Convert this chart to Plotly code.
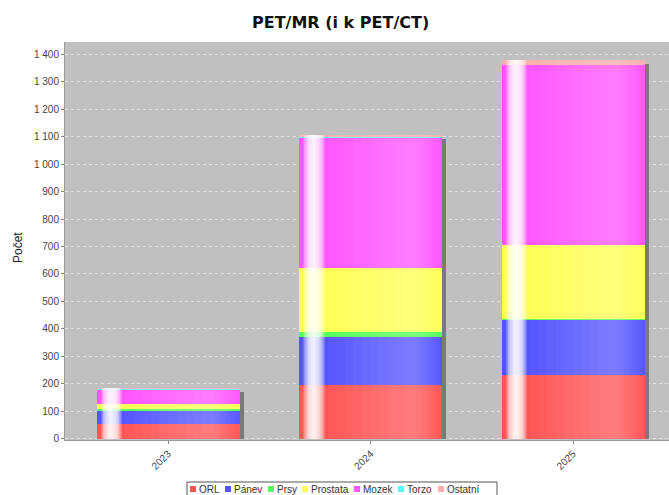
import numpy as np
import plotly.graph_objects as go

# --- data -------------------------------------------------------------
years = ["2023", "2024", "2025"]
series_names = ["ORL", "Pánev", "Prsy", "Prostata", "Mozek", "Torzo", "Ostatní"]
orl = [53, 196, 233]
panev = [50, 176, 202]
prsy = [4, 18, 3]
prostata = [19, 232, 268]
mozek = [52, 476, 655]
torzo = [5, 1, 0]
ostatni = [2, 8, 18]
series_values = [orl, panev, prsy, prostata, mozek, torzo, ostatni]
y_ticks = list(range(0, 1401, 100))

# --- style ------------------------------------------------------------
colors = ["#ff5555", "#5555ff", "#55ff55", "#ffff55", "#ff55ff", "#55ffff", "#ffafaf"]
W, H = 669, 495
ML, MR, MT, MB = 65, 0, 42, 55
PW, PH = W - ML - MR, H - MT - MB
Y_RANGE = [-4, 1444]
X_RANGE = [-0.509, 2.474]
BAR_W = 0.706
px_per_unit = PH / (Y_RANGE[1] - Y_RANGE[0])
px_per_cat = PW / (X_RANGE[1] - X_RANGE[0])
FONT = "Liberation Sans"


def paper_x(px):
    return (px - ML) / PW


def paper_y(py):
    return (H - MB - py) / PH


fig = go.Figure()

totals = np.sum(np.array(series_values), axis=0)

# drop shadow behind each bar (offset right / down)
shadow_dx = 4 / px_per_cat
shadow_dy = 4 / px_per_unit
fig.add_trace(go.Bar(
    x=years, y=totals - shadow_dy, base=0,
    width=BAR_W, offset=-BAR_W / 2 + shadow_dx,
    marker=dict(color="#7a7a7a", line=dict(width=0)),
    showlegend=False, hoverinfo="skip",
))

# stacked series
base = np.zeros(len(years))
for name, vals, col in zip(series_names, series_values, colors):
    fig.add_trace(go.Bar(
        x=years, y=vals, base=base.copy(), name=name,
        width=BAR_W, offset=-BAR_W / 2,
        marker=dict(color=col, line=dict(width=0)),
        showlegend=False,
    ))
    base = base + np.array(vals)


# gradient sheen: nested translucent white bars build a smooth ramp
def add_sheen(peak, left, right, peak_alpha, layers):
    a = 1 - (1 - peak_alpha) ** (1 / layers)
    for k in range(1, layers + 1):
        t = k / layers
        x0 = peak - left * t
        x1 = peak + right * t
        fig.add_trace(go.Bar(
            x=years, y=totals, base=0,
            width=BAR_W * (x1 - x0), offset=-BAR_W / 2 + BAR_W * x0,
            marker=dict(color=f"rgba(255,255,255,{a:.4f})", line=dict(width=0)),
            showlegend=False, hoverinfo="skip",
        ))


add_sheen(0.80, 0.60, 0.20, 0.24, 10)
add_sheen(0.10, 0.07, 0.08, 0.92, 12)

# --- custom legend ----------------------------------------------------
shapes = []
annotations = []
shapes.append(dict(type="rect", xref="paper", yref="paper",
                   x0=paper_x(187), x1=paper_x(497),
                   y0=paper_y(496), y1=paper_y(482),
                   line=dict(color="#555555", width=1), fillcolor="white"))
item_x = [190, 225, 268, 302, 354, 398, 438]
for name, col, x in zip(series_names, colors, item_x):
    shapes.append(dict(type="rect", xref="paper", yref="paper",
                       x0=paper_x(x), x1=paper_x(x + 6),
                       y0=paper_y(492), y1=paper_y(486),
                       line=dict(width=0), fillcolor=col))
    annotations.append(dict(text=name, xref="paper", yref="paper",
                            x=paper_x(x + 7), y=paper_y(489),
                            xanchor="left", yanchor="middle", showarrow=False,
                            font=dict(family=FONT, size=10, color="#333333")))

# title and y-axis caption
annotations.append(dict(text="<b>PET/MR (i k PET/CT)</b>", xref="paper", yref="paper",
                        x=paper_x(340), y=paper_y(23), xanchor="center", yanchor="middle",
                        showarrow=False, font=dict(family="DejaVu Sans", size=16, color="#111111")))
annotations.append(dict(text="Počet", xref="paper", yref="paper",
                        x=paper_x(18), y=paper_y(248), xanchor="center", yanchor="middle",
                        textangle=-90, showarrow=False,
                        font=dict(family=FONT, size=12, color="#222222")))

fig.update_layout(
    width=W, height=H,
    margin=dict(l=ML, r=MR, t=MT, b=MB, pad=0),
    barmode="overlay",
    bargap=0,
    paper_bgcolor="white",
    plot_bgcolor="#c0c0c0",
    separators=", ",
    shapes=shapes,
    annotations=annotations,
    showlegend=False,
    xaxis=dict(
        type="category", range=X_RANGE, showgrid=False,
        showline=True, linecolor="#9a9a9a", linewidth=1,
        ticks="outside", ticklen=3, tickcolor="#888888",
        tickangle=-45, tickfont=dict(family=FONT, size=10, color="#444444"),
        fixedrange=True,
    ),
    yaxis=dict(
        range=Y_RANGE, tickvals=y_ticks, tickformat=",d",
        showgrid=True, gridcolor="#e2e2e2", gridwidth=1, griddash="dot",
        zeroline=False,
        showline=True, linecolor="#9a9a9a", linewidth=1,
        ticks="outside", ticklen=3, tickcolor="#888888",
        tickfont=dict(family=FONT, size=10, color="#444444"),
        fixedrange=True,
    ),
)

fig.write_html("out.html")
